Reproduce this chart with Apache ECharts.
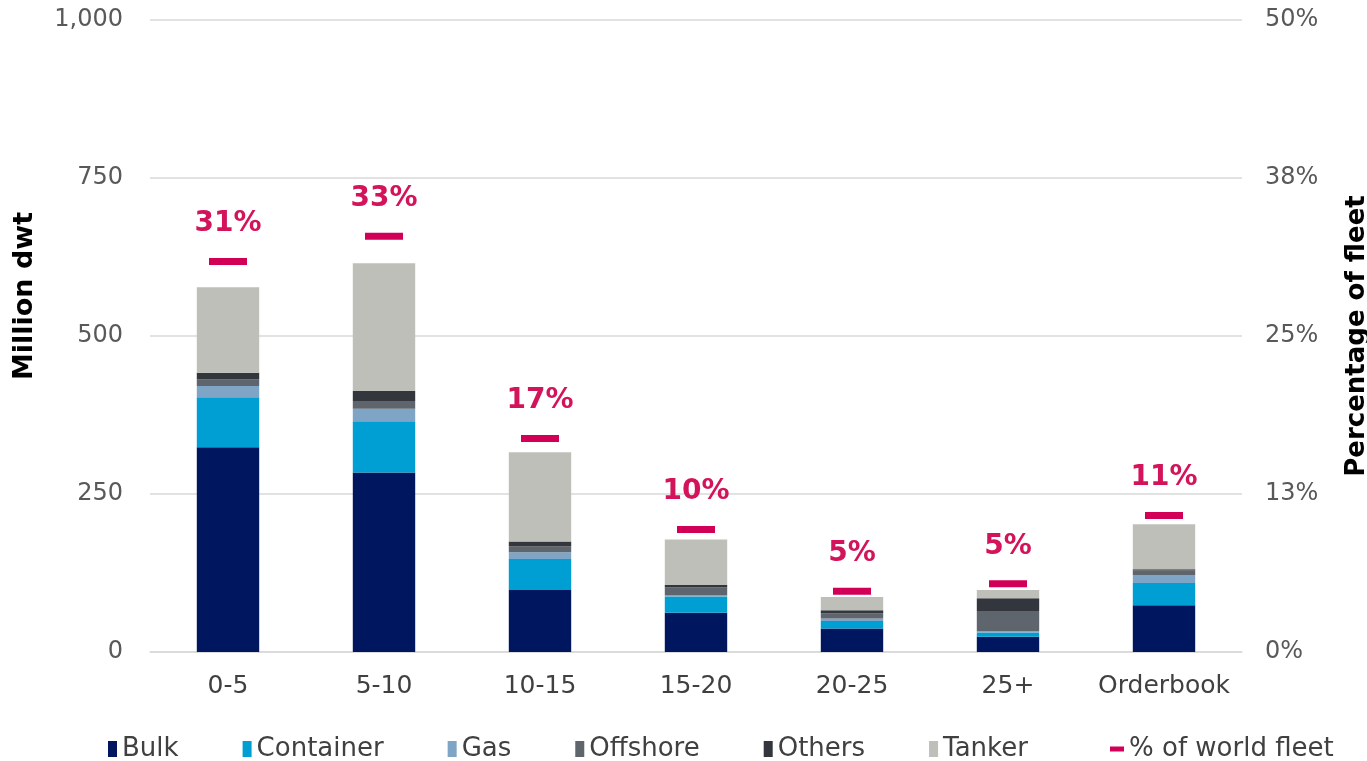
<!DOCTYPE html>
<html>
<head>
<meta charset="utf-8">
<script src="https://cdn.jsdelivr.net/npm/echarts@6/dist/echarts.min.js"></script>
<style>
  html, body { margin: 0; padding: 0; background: #fff; }
  #chart { width: 1367px; height: 761px; }
</style>
</head>
<body>
<div id="chart"></div>
<script>
const ages = ["0-5", "5-10", "10-15", "15-20", "20-25", "25+", "Orderbook"];
const bulk = [324, 284, 98, 62, 37, 24, 74];
const container = [79, 81, 49, 26, 12, 7, 35];
const gas = [18, 20, 11, 2, 4, 2, 13];
const offshore = [10, 12, 9, 12, 8, 32, 7];
const others = [11, 16, 8, 4, 5, 20, 2];
const tanker = [135, 202, 141, 72, 21, 13, 71];
const worldShare = [30.9, 32.9, 16.9, 9.7, 4.8, 5.4, 10.8];

const font = "DejaVu Sans";
const chart = echarts.init(document.getElementById("chart"));

function barSeries(name, data, color) {
  return {
    name: name,
    type: "bar",
    stack: "fleet",
    barWidth: "40%",
    data: data,
    itemStyle: { color: color },
  };
}

chart.setOption({
  animation: false,
  textStyle: { fontFamily: font },
  grid: { left: 150, right: 125, top: 20, bottom: 109, outerBoundsMode: "none", containLabel: false },
  legend: [
    {
      data: ["Bulk", "Container", "Gas", "Offshore", "Others", "Tanker"],
      left: 103,
      top: 731,
      itemWidth: 9,
      itemHeight: 16,
      itemGap: 64,
      icon: "rect",
      textStyle: { fontSize: 26, color: "#404040", fontFamily: font },
    },
    {
      data: ["% of world fleet"],
      left: 1105,
      top: 731,
      itemWidth: 14,
      itemHeight: 5,
      icon: "rect",
      textStyle: { fontSize: 26, color: "#404040", fontFamily: font },
    },
  ],
  xAxis: {
    type: "category",
    data: ages,
    axisLine: { lineStyle: { color: "#d9d9d9", width: 1.5 } },
    axisTick: { show: false },
    axisLabel: { fontSize: 25, color: "#404040", margin: 22, interval: 0 },
  },
  yAxis: [
    {
      type: "value",
      min: 0,
      max: 1000,
      interval: 250,
      name: "Million dwt",
      nameLocation: "middle",
      nameRotate: 90,
      nameGap: 112,
      nameTextStyle: { fontSize: 27, fontWeight: "bold", color: "#000", padding: [0, 0, 0, 80] },
      axisLabel: {
        fontSize: 24,
        color: "#595959",
        margin: 27,
        formatter: (v) => v.toLocaleString("en-US"),
      },
      splitLine: { lineStyle: { color: "#d9d9d9", width: 1.5 } },
    },
    {
      type: "value",
      min: 0,
      max: 50,
      interval: 12.5,
      name: "Percentage of fleet",
      nameLocation: "middle",
      nameRotate: 90,
      nameGap: 102,
      nameTextStyle: { fontSize: 26, fontWeight: "bold", color: "#000" },
      axisLabel: {
        fontSize: 24,
        color: "#595959",
        margin: 23,
        formatter: (v) => Math.round(v) + "%",
      },
      splitLine: { show: false },
    },
  ],
  series: [
    barSeries("Bulk", bulk, "#00165e"),
    barSeries("Container", container, "#009fd3"),
    barSeries("Gas", gas, "#7fa5c6"),
    barSeries("Offshore", offshore, "#5e656d"),
    barSeries("Others", others, "#33363c"),
    barSeries("Tanker", tanker, "#bdbfb8"),
    {
      name: "% of world fleet",
      type: "scatter",
      yAxisIndex: 1,
      symbol: "rect",
      symbolSize: [38, 7],
      data: worldShare,
      itemStyle: { color: "#d10056", opacity: 1 },
      label: {
        show: true,
        position: "top",
        distance: 20,
        fontSize: 28,
        fontWeight: "bold",
        color: "#d4145a",
        formatter: (p) => Math.round(p.value) + "%",
      },
      z: 5,
    },
  ],
});
</script>
</body>
</html>
